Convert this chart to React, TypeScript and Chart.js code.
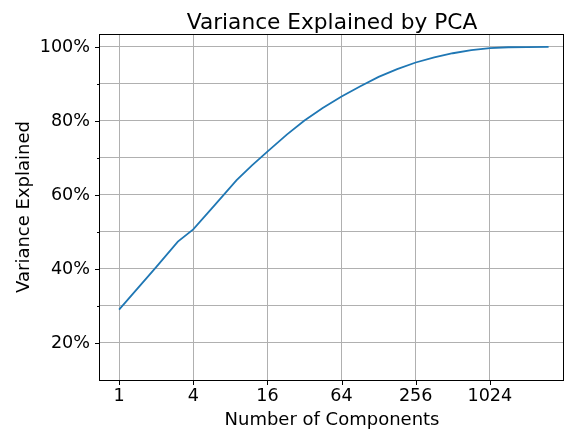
import React, { useEffect, useRef } from "react";
import { Chart, registerables } from "chart.js";

Chart.register(...registerables);

// ---- data ----
const components = [1, 2, 3, 4, 6, 9, 12, 16, 23, 32, 45, 64, 91, 128, 181, 256, 362, 512, 724, 1024, 1448, 2048, 3072];
const varianceExplained = [29.0, 40.5, 47.4, 50.7, 57.3, 64.0, 68.0, 71.7, 76.3, 80.1, 83.5, 86.6, 89.4, 91.9, 94.0, 95.8, 97.2, 98.3, 99.15, 99.7, 99.92, 99.98, 100];
const xTickValues = [1, 4, 16, 64, 256, 1024];
const yMajorTicks = [20, 40, 60, 80, 100];
const yMinorTicks = [30, 50, 70, 90];
const yGridValues = [10, 20, 30, 40, 50, 60, 70, 80, 90, 100];
const titleText = "Variance Explained by PCA";
const xTitleText = "Number of Components";
const yTitleText = "Variance Explained";

const FONT = '"DejaVu Sans", "Liberation Sans", sans-serif';
const W = 566;
const H = 430;

const decorPlugin = {
  id: "decor",
  afterDatasetsDraw(chart: any) {
    const { ctx, chartArea, scales } = chart;
    const { left, right, top, bottom } = chartArea;
    const x = scales.x;
    const y = scales.y;
    ctx.save();
    ctx.strokeStyle = "#000";
    ctx.lineWidth = 1;
    ctx.beginPath();
    for (const v of yMajorTicks) {
      const py = Math.round(y.getPixelForValue(v)) + 0.5;
      ctx.moveTo(left - 5, py);
      ctx.lineTo(left, py);
    }
    for (const v of yMinorTicks) {
      const py = Math.round(y.getPixelForValue(v)) + 0.5;
      ctx.moveTo(left - 3, py);
      ctx.lineTo(left, py);
    }
    for (const v of xTickValues) {
      const px = Math.round(x.getPixelForValue(v)) + 0.5;
      ctx.moveTo(px, bottom);
      ctx.lineTo(px, bottom + 5);
    }
    ctx.stroke();
    ctx.strokeRect(Math.round(left) - 0.5, Math.round(top) + 0.5, Math.round(right - left), Math.round(bottom - top));
    ctx.fillStyle = "#000";
    ctx.font = `21.7px ${FONT}`;
    ctx.textAlign = "center";
    ctx.textBaseline = "alphabetic";
    ctx.fillText(titleText, (left + right) / 2, 28.5);
    ctx.restore();
  },
};

export default function App() {
  const canvasRef = useRef<HTMLCanvasElement | null>(null);

  useEffect(() => {
    const canvas = canvasRef.current;
    if (!canvas) return;
    const chart = new Chart(canvas, {
      type: "line",
      data: {
        datasets: [
          {
            data: components.map((c, i) => ({ x: c, y: varianceExplained[i] })),
            borderColor: "#1f77b4",
            backgroundColor: "#1f77b4",
            borderWidth: 1.8,
            pointRadius: 0,
            fill: false,
            tension: 0,
          },
        ],
      },
      options: {
        responsive: false,
        animation: false,
        devicePixelRatio: 1,
        layout: { padding: { top: 34, right: 2, left: 0, bottom: 0 } },
        plugins: {
          legend: { display: false },
          tooltip: { enabled: false },
          title: { display: false },
        },
        scales: {
          x: {
            type: "logarithmic",
            min: 0.7,
            max: 4096,
            afterBuildTicks: (s: any) => {
              s.ticks = xTickValues.map((v) => ({ value: v }));
            },
            afterFit: (s: any) => {
              s.height = 50;
            },
            ticks: {
              callback: (v: any) => String(v),
              color: "#000",
              font: { family: FONT, size: 17.6 },
              padding: 6,
              autoSkip: false,
              maxRotation: 0,
              minRotation: 0,
            },
            grid: { color: "#b0b0b0", lineWidth: 1, drawTicks: false },
            border: { display: false },
            title: {
              display: true,
              text: xTitleText,
              color: "#000",
              font: { family: FONT, size: 18 },
              padding: { top: 0, bottom: -1 },
            },
          },
          y: {
            type: "linear",
            min: 10,
            max: 103.5,
            afterBuildTicks: (s: any) => {
              s.ticks = yGridValues.map((v) => ({ value: v }));
            },
            afterFit: (s: any) => {
              s.width = 100;
            },
            ticks: {
              callback: (v: any) => (yMajorTicks.includes(Number(v)) ? `${v}%` : ""),
              color: "#000",
              font: { family: FONT, size: 17.6 },
              padding: 10,
              autoSkip: false,
            },
            grid: { color: "#b0b0b0", lineWidth: 1, drawTicks: false },
            border: { display: false },
            title: {
              display: true,
              text: yTitleText,
              color: "#000",
              font: { family: FONT, size: 18 },
              padding: { top: 14, bottom: 0 },
            },
          },
        },
      },
      plugins: [decorPlugin],
    });
    return () => chart.destroy();
  }, []);

  return (
    <div style={{ position: "fixed", left: 0, top: 0, width: W, height: H, background: "#fff" }}>
      <canvas ref={canvasRef} width={W} height={H} style={{ display: "block", width: W, height: H }} />
    </div>
  );
}
